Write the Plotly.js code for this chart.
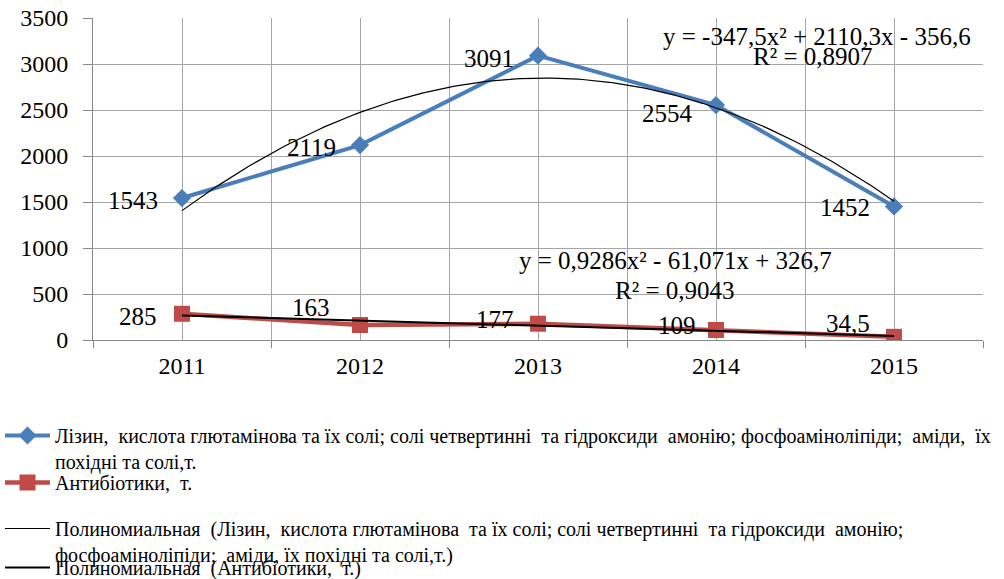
<!DOCTYPE html>
<html>
<head>
<meta charset="utf-8">
<script src="https://cdn.plot.ly/plotly-3.0.1.min.js"></script>
</head>
<body style="margin:0;background:#fff">
<div id="chart" style="width:1004px;height:579px"></div>
<script>
const years = ['2011', '2012', '2013', '2014', '2015'];
const lysine = [1543, 2119, 3091, 2554, 1452];
const antibiotics = [285, 163, 177, 109, 34.5];
const lysineLabels = ['1543', '2119', '3091', '2554', '1452'];
const antibioticsLabels = ['285', '163', '177', '109', '34,5'];
const yTicks = [0, 500, 1000, 1500, 2000, 2500, 3000, 3500];
const nameLysine = 'Лізин,\u00a0 кислота глютамінова та їх солі; солі четвертинні \u00a0та гідроксиди\u00a0 амонію; фосфоаміноліпіди;\u00a0 аміди,\u00a0 їх<br>похідні та солі,т.';
const nameAnti = 'Антибіотики,\u00a0 т.';
const nameTrendLysine = 'Полиномиальная\u00a0 (Лізин,\u00a0 кислота глютамінова\u00a0 та їх солі; солі четвертинні \u00a0та гідроксиди\u00a0 амонію;<br>фосфоаміноліпіди;\u00a0 аміди, їх похідні та солі,т.)';
const nameTrendAnti = 'Полиномиальная\u00a0 (Антибіотики,\u00a0 т.)';
const eqLysine = ['y = -347,5x² + 2110,3x - 356,6', 'R² = 0,8907'];
const eqAnti = ['y = 0,9286x² - 61,071x + 326,7', 'R² = 0,9043'];

// styling offsets for data labels (pixels)
const lysLabelShift = [[-22, -2], [-22, -2], [-22, -3], [-21, -8], [-22, -1]];
const antLabelShift = [[-23, -3], [-28, 18], [-22, 4], [-18, 4], [-22, 13]];

// least-squares quadratic fit (like Excel polynomial trendline, x = 1..n)
function polyfit2(ys) {
  const n = ys.length;
  let S = [0, 0, 0, 0, 0], T = [0, 0, 0];
  for (let i = 0; i < n; i++) {
    const x = i + 1;
    for (let k = 0; k < 5; k++) S[k] += Math.pow(x, k);
    for (let k = 0; k < 3; k++) T[k] += ys[i] * Math.pow(x, k);
  }
  const A = [[S[0], S[1], S[2], T[0]], [S[1], S[2], S[3], T[1]], [S[2], S[3], S[4], T[2]]];
  for (let c = 0; c < 3; c++) {
    for (let r = c + 1; r < 3; r++) {
      const f = A[r][c] / A[c][c];
      for (let k = c; k < 4; k++) A[r][k] -= f * A[c][k];
    }
  }
  const coef = [0, 0, 0];
  for (let r = 2; r >= 0; r--) {
    let s = A[r][3];
    for (let k = r + 1; k < 3; k++) s -= A[r][k] * coef[k];
    coef[r] = s / A[r][r];
  }
  return coef; // c0 + c1 x + c2 x^2
}
function trendCurve(ys) {
  const c = polyfit2(ys);
  const xs = [], vs = [];
  for (let i = 0; i <= 160; i++) {
    const x = 1 + i * (ys.length - 1) / 160;
    xs.push(x - 1);
    vs.push(c[0] + c[1] * x + c[2] * x * x);
  }
  return { x: xs, y: vs };
}

const idx = years.map((_, i) => i);
const tL = trendCurve(lysine);
const tA = trendCurve(antibiotics);
const FAM = 'Liberation Serif';

const traces = [
  { x: idx, y: lysine, name: nameLysine, type: 'scatter', mode: 'lines+markers', legend: 'legend',
    line: { color: '#4A7EBB', width: 4 }, marker: { symbol: 'diamond', size: 14, color: '#4A7EBB' } },
  { x: idx, y: antibiotics, name: nameAnti, type: 'scatter', mode: 'lines+markers', legend: 'legend2',
    line: { color: '#BE4B48', width: 4.5 }, marker: { symbol: 'square', size: 16, color: '#BE4B48' } },
  { x: tL.x, y: tL.y, name: nameTrendLysine, type: 'scatter', mode: 'lines', legend: 'legend3',
    line: { color: '#000', width: 1.2 } },
  { x: tA.x, y: tA.y, name: nameTrendAnti, type: 'scatter', mode: 'lines', legend: 'legend4',
    line: { color: '#000', width: 2 } }
];

const annotations = [];
lysine.forEach((v, i) => annotations.push({ x: i, y: v, xref: 'x', yref: 'y', text: lysineLabels[i], showarrow: false,
  xanchor: 'right', yanchor: 'middle', xshift: lysLabelShift[i][0], yshift: lysLabelShift[i][1],
  font: { family: FAM, size: 25, color: '#000' } }));
antibiotics.forEach((v, i) => annotations.push({ x: i, y: v, xref: 'x', yref: 'y', text: antibioticsLabels[i], showarrow: false,
  xanchor: 'right', yanchor: 'middle', xshift: antLabelShift[i][0], yshift: antLabelShift[i][1],
  font: { family: FAM, size: 25, color: '#000' } }));
const eqFont = { family: FAM, size: 25, color: '#000' };
annotations.push({ xref: 'paper', yref: 'paper', x: 0.8135, y: 0.941, text: eqLysine[0], showarrow: false, xanchor: 'center', yanchor: 'middle', font: eqFont });
annotations.push({ xref: 'paper', yref: 'paper', x: 0.809, y: 0.879, text: eqLysine[1], showarrow: false, xanchor: 'center', yanchor: 'middle', font: eqFont });
annotations.push({ xref: 'paper', yref: 'paper', x: 0.655, y: 0.248, text: eqAnti[0], showarrow: false, xanchor: 'center', yanchor: 'middle', font: eqFont });
annotations.push({ xref: 'paper', yref: 'paper', x: 0.654, y: 0.155, text: eqAnti[1], showarrow: false, xanchor: 'center', yanchor: 'middle', font: eqFont });

function legendAt(topPx) {
  return {
    xref: 'container', yref: 'container', x: 0, y: 1 - topPx / 579, xanchor: 'left', yanchor: 'top', valign: 'top',
    font: { family: FAM, size: 20, color: '#000' }, bgcolor: 'rgba(0,0,0,0)', borderwidth: 0, itemwidth: 45
  };
}

const grid = '#a6a6a6';
const layout = {
  width: 1004, height: 579,
  margin: { l: 93, r: 21, t: 18, b: 239, autoexpand: false },
  paper_bgcolor: '#fff', plot_bgcolor: '#fff',
  showlegend: true,
  xaxis: {
    range: [-0.5, 4.5], tickvals: idx, ticktext: years, ticks: '', showgrid: true, gridcolor: grid, gridwidth: 1,
    showline: true, linecolor: '#888', linewidth: 1, zeroline: false, automargin: false,
    tickfont: { family: FAM, size: 24, color: '#000' }, ticklabelstandoff: 4,
    minor: { tick0: -0.5, dtick: 1, ticks: 'outside', ticklen: 7, tickcolor: '#888', showgrid: true, gridcolor: grid, gridwidth: 1 }
  },
  yaxis: {
    range: [0, 3500], tickvals: yTicks, ticks: 'outside', ticklen: 9, tickcolor: '#888', showgrid: true, gridcolor: grid,
    showline: true, linecolor: '#888', linewidth: 1, zeroline: false, automargin: false,
    tickfont: { family: FAM, size: 24, color: '#000' }, ticklabelstandoff: 10
  },
  legend: legendAt(416),
  legend2: legendAt(463),
  legend3: legendAt(509),
  legend4: legendAt(548),
  annotations: annotations
};

Plotly.newPlot('chart', traces, layout, { displayModeBar: false, staticPlot: true });
</script>
</body>
</html>
